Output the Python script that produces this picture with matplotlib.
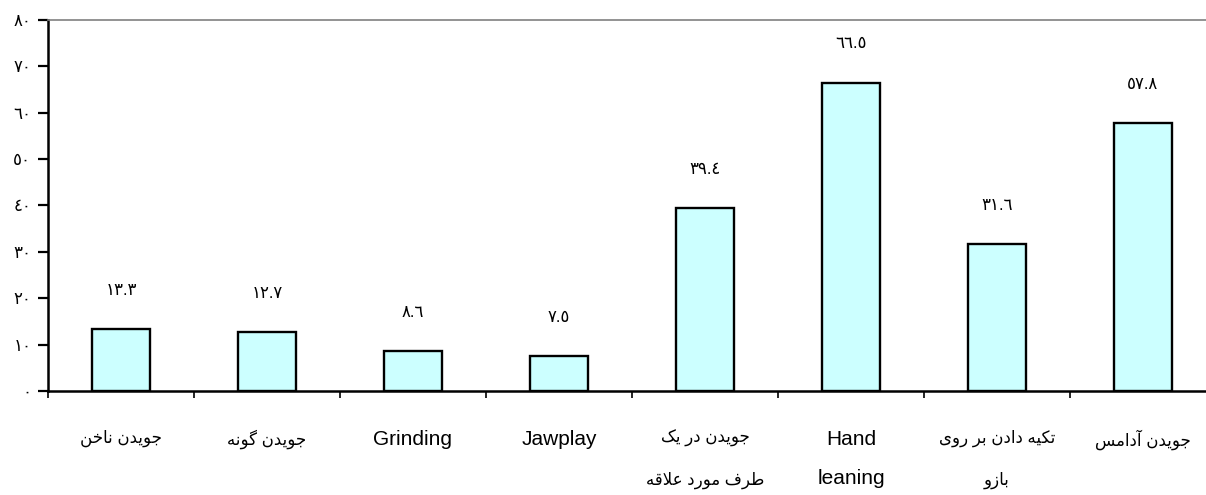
import numpy as np
import matplotlib
matplotlib.use('Agg')
import matplotlib.pyplot as plt

labels = ['جویدن ناخن', 'جویدن گونه', 'Grinding', 'Jawplay',
          'جویدن در یک\nطرف مورد علاقه', 'Hand\nleaning',
          'تکیه دادن بر روی\nبازو', 'جویدن آدامس']
values = [13.3, 12.7, 8.6, 7.5, 39.4, 66.5, 31.6, 57.8]
yticks = [0, 10, 20, 30, 40, 50, 60, 70, 80]

# presentation forms: isolated, final, initial, medial
FORMS = {
    'ا': '\uFE8D\uFE8E', 'آ': '\uFE81\uFE82',
    'ب': '\uFE8F\uFE90\uFE91\uFE92', 'ت': '\uFE95\uFE96\uFE97\uFE98',
    'ج': '\uFE9D\uFE9E\uFE9F\uFEA0', 'خ': '\uFEA5\uFEA6\uFEA7\uFEA8',
    'د': '\uFEA9\uFEAA', 'ر': '\uFEAD\uFEAE', 'ز': '\uFEAF\uFEB0',
    'س': '\uFEB1\uFEB2\uFEB3\uFEB4', 'ط': '\uFEC1\uFEC2\uFEC3\uFEC4',
    'ع': '\uFEC9\uFECA\uFECB\uFECC', 'ف': '\uFED1\uFED2\uFED3\uFED4',
    'ق': '\uFED5\uFED6\uFED7\uFED8', 'ل': '\uFEDD\uFEDE\uFEDF\uFEE0',
    'م': '\uFEE1\uFEE2\uFEE3\uFEE4', 'ن': '\uFEE5\uFEE6\uFEE7\uFEE8',
    'ه': '\uFEE9\uFEEA\uFEEB\uFEEC', 'و': '\uFEED\uFEEE',
    'ی': '\uFBFC\uFBFD\uFBFE\uFBFF', 'ک': '\uFB8E\uFB8F\uFB90\uFB91',
    'گ': '\uFB92\uFB93\uFB94\uFB95',
}


def shape_line(s):
    if s.isascii():
        return s
    out = []
    i = 0
    while i < len(s):
        c = s[i]
        if c not in FORMS:
            out.append(c)
            i += 1
            continue
        prev = s[i - 1] if i > 0 else ''
        nxt = s[i + 1] if i + 1 < len(s) else ''
        jp = prev in FORMS and len(FORMS[prev]) == 4
        if c == 'ل' and nxt == 'ا':
            out.append('\uFEFC' if jp else '\uFEFB')
            i += 2
            continue
        jn = len(FORMS[c]) == 4 and nxt in FORMS
        f = FORMS[c]
        if jp and jn:
            g = f[3]
        elif jp:
            g = f[1]
        elif jn:
            g = f[2]
        else:
            g = f[0]
        out.append(g)
        i += 1
    return ''.join(out)[::-1]


def shape(s):
    return '\n'.join(shape_line(l) for l in s.split('\n'))


def ar_digits(s):
    return s.translate(str.maketrans('0123456789', '٠١٢٣٤٥٦٧٨٩'))


plt.rcParams['font.family'] = ['Liberation Sans', 'DejaVu Sans']

fig = plt.figure(figsize=(12.06, 4.95), dpi=100)
ax = fig.add_axes([48 / 1206, 104 / 495, 1168 / 1206, 371 / 495])

x = np.arange(len(values))
ax.bar(x, values, width=0.4, color='#CCFFFF', edgecolor='black', linewidth=1.7)

for xi, v in zip(x, values):
    ax.annotate(ar_digits('%.1f' % v), xy=(xi, v), xytext=(0, 28),
                textcoords='offset points', ha='center', va='center', fontsize=12)

ax.set_xlim(-0.5, len(values) - 0.5)
ax.set_ylim(0, 80)
ax.set_yticks(yticks)
ax.set_yticklabels([ar_digits(str(t)) for t in yticks], fontsize=12)
ax.tick_params(axis='y', length=7, width=1.6, pad=5)

ax.set_xticks(x)
ax.set_xticklabels([shape(l) for l in labels], va='top')
for t, l in zip(ax.get_xticklabels(), labels):
    if l.isascii():
        t.set_fontsize(15)
        t.set_linespacing(2.35)
    else:
        t.set_fontsize(12)
        t.set_linespacing(2.9)
ax.tick_params(axis='x', which='major', length=0, pad=28)
ax.set_xticks(np.arange(-0.5, len(values)), minor=True)
ax.tick_params(axis='x', which='minor', length=5, width=1.2)

for s in ['left', 'bottom']:
    ax.spines[s].set_linewidth(1.8)
ax.spines['top'].set_color('#808080')
ax.spines['top'].set_linewidth(1.2)
ax.spines['right'].set_visible(False)

plt.savefig('out.png', dpi=100)
